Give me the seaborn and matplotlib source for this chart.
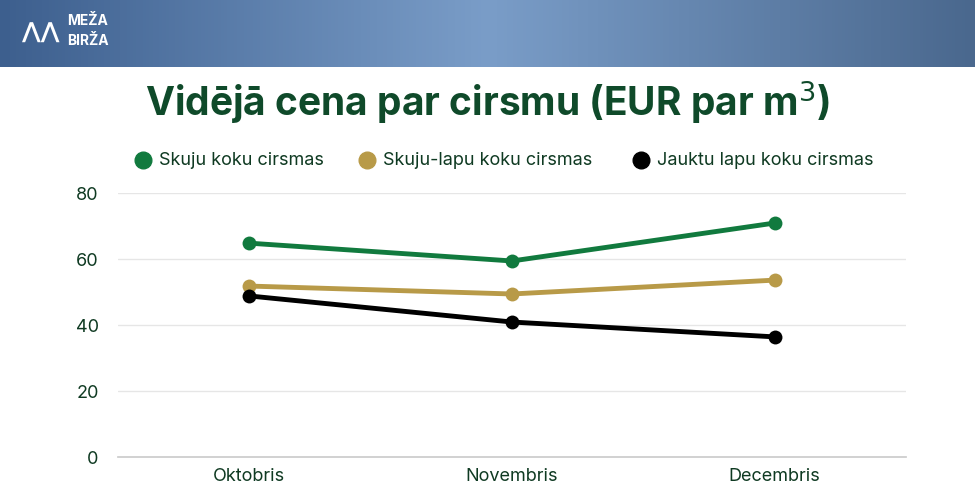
import matplotlib
matplotlib.use("Agg")
import matplotlib.pyplot as plt
import seaborn as sns
import numpy as np
import pandas as pd

months = ["Oktobris", "Novembris", "Decembris"]
series_names = ["Skuju koku cirsmas", "Skuju-lapu koku cirsmas", "Jauktu lapu koku cirsmas"]
skuju = [64.8, 59.4, 70.9]
skuju_lapu = [51.8, 49.4, 53.6]
jauktu = [48.8, 40.9, 36.4]
colors = ["#117a3e", "#b89a48", "#000000"]
yticks = [0, 20, 40, 60, 80]

sns.set_theme(style="white")
plt.rcParams['font.family'] = ['Inter', 'DejaVu Sans']

df = pd.DataFrame({
    "month": months * 3,
    "value": skuju + skuju_lapu + jauktu,
    "series": [series_names[0]] * 3 + [series_names[1]] * 3 + [series_names[2]] * 3,
})

fig = plt.figure(figsize=(9.75, 5), dpi=100)
bax = fig.add_axes([0, 1 - 67 / 500, 1, 67 / 500])
grad = np.linspace(0, 1, 300)
img = np.zeros((10, 300, 3))
c1 = np.array([0x3d, 0x5f, 0x8e]) / 255
c2 = np.array([0x7a, 0x9d, 0xc8]) / 255
c3 = np.array([0x4a, 0x68, 0x8e]) / 255
for i, g in enumerate(grad):
    if g < 0.5:
        img[:, i] = c1 + (c2 - c1) * (g / 0.5)
    else:
        img[:, i] = c2 + (c3 - c2) * ((g - 0.5) / 0.5)
bax.imshow(img, aspect="auto", extent=[0, 1, 0, 1])
bax.set_axis_off()
fig.text(67 / 975, 1 - 21 / 500, "MEŽA", color="white", fontsize=10, fontweight="bold", va="center")
fig.text(67 / 975, 1 - 41 / 500, "BIRŽA", color="white", fontsize=10, fontweight="bold", va="center")
fig.text(22 / 975, 1 - 33 / 500, "⋀⋀", color="white", fontsize=16, fontweight="bold", va="center")

fig.text(0.5, 1 - 102 / 500, "Vidējā cena par cirsmu (EUR par m$^3$)", ha="center", va="center",
         fontsize=28, fontweight="bold", color="#0f4a2a")

ax = fig.add_axes([118 / 975, 1 - 457 / 500, (906 - 118) / 975, (457 - 193) / 500])
sns.lineplot(data=df, x="month", y="value", hue="series", palette=colors, marker="o",
             markersize=10, markeredgewidth=0, linewidth=3.5, ax=ax, legend=False, sort=False)
ax.set_xlim(-0.5, 2.5)
ax.set_ylim(0, 80)
ax.set_yticks(yticks)
ax.yaxis.grid(True, color="#e6e6e6", linewidth=1)
ax.set_axisbelow(True)
for s in ["top", "right", "left"]:
    ax.spines[s].set_visible(False)
ax.spines["bottom"].set_color("#cccccc")
ax.set_xlabel("")
ax.set_ylabel("")
ax.tick_params(axis="both", length=0, labelsize=13, labelcolor="#0f3a22", pad=8)
ax.tick_params(axis="y", pad=14)

lx = [143, 367, 641]
for x, name, c in zip(lx, series_names, colors):
    fig.text((x + 16) / 975, 1 - 160 / 500, name, fontsize=13, color="#0f3a22", va="center")
    fig.add_artist(plt.Line2D([x / 975], [1 - 160 / 500], marker="o", color=c, markersize=12,
                              transform=fig.transFigure, linestyle=""))

fig.savefig("out.png", dpi=100)
